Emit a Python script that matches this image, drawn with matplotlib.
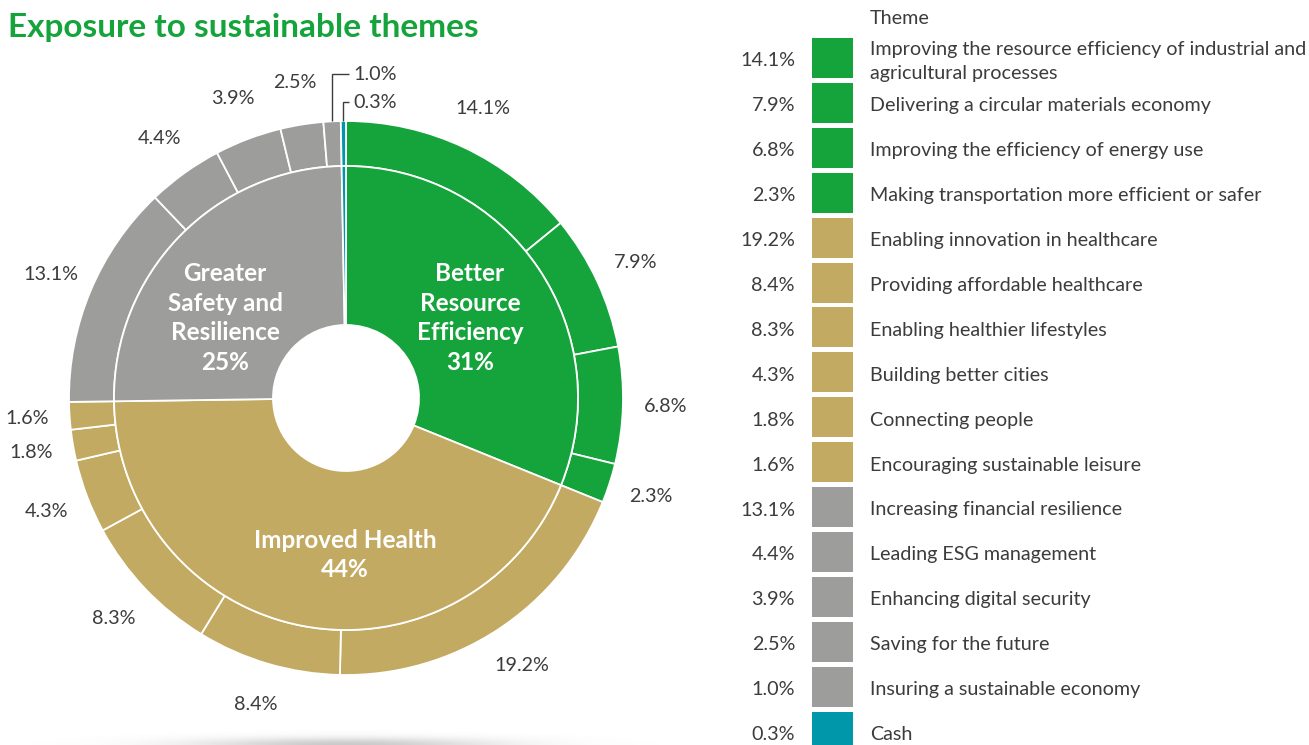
import numpy as np
import matplotlib
matplotlib.use("Agg")
import matplotlib.pyplot as plt

# ---- data ----
themes = [
    "Improving the resource efficiency of industrial and\nagricultural processes",
    "Delivering a circular materials economy",
    "Improving the efficiency of energy use",
    "Making transportation more efficient or safer",
    "Enabling innovation in healthcare",
    "Providing affordable healthcare",
    "Enabling healthier lifestyles",
    "Building better cities",
    "Connecting people",
    "Encouraging sustainable leisure",
    "Increasing financial resilience",
    "Leading ESG management",
    "Enhancing digital security",
    "Saving for the future",
    "Insuring a sustainable economy",
    "Cash",
]
theme_values = [14.1, 7.9, 6.8, 2.3, 19.2, 8.4, 8.3, 4.3, 1.8, 1.6,
                13.1, 4.4, 3.9, 2.5, 1.0, 0.3]
theme_group = [0, 0, 0, 0, 1, 1, 1, 1, 1, 1, 2, 2, 2, 2, 2, 3]

groups = ["Better\nResource\nEfficiency", "Improved Health",
          "Greater\nSafety and\nResilience", "Cash"]
group_values = [31.1, 43.6, 24.9, 0.3]
group_labels = ["31%", "44%", "25%", None]

# ---- style ----
GREEN = "#14a43b"
TAN = "#c3aa62"
GRAY = "#9d9d9c"
TEAL = "#0097ab"
group_colors = [GREEN, TAN, GRAY, TEAL]
TEXT = "#3c3c3c"
FONT = ["Lato", "DejaVu Sans"]
FS = 14.2

W, H = 1309, 745
fig = plt.figure(figsize=(W / 100, H / 100), dpi=100)
ax = fig.add_axes([0, 0, 1, 1])

# pixel-like coordinates (y measured from the top)
def py(y):
    return H - y

cx, cy = 346, py(398)
R_OUT, R_MID, R_IN = 277, 232, 73

theme_colors = [group_colors[g] for g in theme_group]

# outer ring: individual themes
ax.pie(theme_values, radius=R_OUT, center=(cx, cy), colors=theme_colors,
       startangle=90, counterclock=False,
       wedgeprops=dict(width=R_OUT - R_MID, edgecolor="white", linewidth=1.3))
# inner ring: theme groups
ax.pie(group_values, radius=R_MID, center=(cx, cy), colors=group_colors,
       startangle=90, counterclock=False,
       wedgeprops=dict(width=R_MID - R_IN, edgecolor="white", linewidth=1.3))

# soft shadow under the donut
gx = np.linspace(0, W, 700)
gy = np.linspace(0, 40, 80)
GX, GY = np.meshgrid(gx, gy)
shade = np.exp(-((GX - 345) / 105) ** 2 / 2) * np.exp(-(GY / 5) ** 2 / 2)
rgba = np.zeros(shade.shape + (4,))
rgba[..., :3] = 0.4
rgba[..., 3] = 0.35 * shade
ax.imshow(rgba, extent=(0, W, 0, 40), origin="lower", zorder=0,
          interpolation="bilinear")

# outer percentage labels
total = sum(theme_values)
cum = np.cumsum([0] + theme_values)
R_LAB = 320
for i, v in enumerate(theme_values):
    mid = (cum[i] + v / 2) / total * 2 * np.pi
    lbl = f"{v:.1f}%"
    if v < 1.5:
        # small slices at the top get a leader line
        xe = cx + R_OUT * np.sin(mid)
        ye = cy + R_OUT * np.cos(mid)
        ytop = py(74) if v >= 1.0 else py(102)
        ax.plot([xe, xe, 349], [ye, ytop, ytop], color=TEXT, lw=1.0,
                solid_capstyle="butt", solid_joinstyle="miter")
        ax.text(353, ytop, lbl, ha="left", va="center", fontsize=FS,
                color=TEXT, family=FONT)
    else:
        x = cx + R_LAB * np.sin(mid)
        y = cy + R_LAB * np.cos(mid)
        ax.text(x, y, lbl, ha="center", va="center", fontsize=FS,
                color=TEXT, family=FONT)

# inner group labels
group_pos = [(470, py(318)), (345, py(555)), (225, py(318))]
for name, lab, (x, y) in zip(groups, group_labels, group_pos):
    ax.text(x, y, f"{name}\n{lab}", ha="center", va="center", fontsize=17.5,
            color="white", fontweight="bold", family=FONT, linespacing=1.35)

# title
ax.text(8, py(28), "Exposure to sustainable themes", ha="left", va="center",
        fontsize=24, color=GREEN, fontweight="bold", family=FONT)

# legend
ax.text(870, py(18), "Theme", ha="left", va="center", fontsize=FS,
        color=TEXT, family=FONT)
row0, pitch, box_h = 58, 44.9, 40
for i, (t, v, c) in enumerate(zip(themes, theme_values, theme_colors)):
    yc = py(row0 + i * pitch)
    ax.add_patch(plt.Rectangle((812, yc - box_h / 2), 41, box_h,
                               facecolor=c, edgecolor="none"))
    ax.text(795, yc - 3, f"{v:.1f}%", ha="right", va="center", fontsize=FS,
            color=TEXT, family=FONT)
    ax.text(870, yc - 3, t, ha="left", va="center", fontsize=FS,
            color=TEXT, family=FONT, linespacing=1.5)

ax.set_xlim(0, W)
ax.set_ylim(0, H)
ax.set_aspect("auto")
ax.axis("off")

fig.savefig("out.png", dpi=100)
